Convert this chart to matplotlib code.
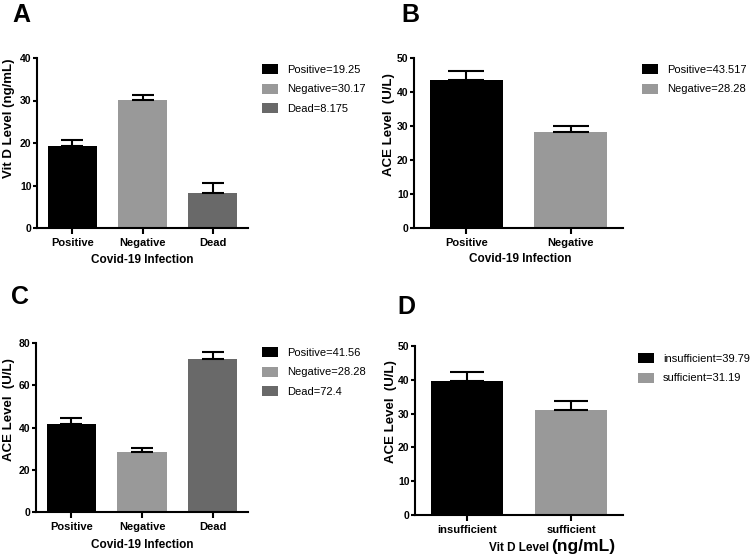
import matplotlib
matplotlib.use('Agg')
import matplotlib.pyplot as plt

plt.rcParams['font.family'] = ['Liberation Sans', 'DejaVu Sans']
plt.rcParams['font.weight'] = 'bold'

BLACK = '#000000'
LIGHT = '#999999'
DARK = '#696969'

# panel A: vitamin D by infection status
a_cats = ['Positive', 'Negative', 'Dead']
a_means = [19.25, 30.17, 8.175]
a_err = [1.4, 1.2, 2.3]

# panel B: ACE by infection status
b_cats = ['Positive', 'Negative']
b_means = [43.517, 28.28]
b_err = [2.8, 1.8]

# panel C: ACE incl. dead
c_cats = ['Positive', 'Negative', 'Dead']
c_means = [41.56, 28.28, 72.4]
c_err = [2.8, 1.8, 3.2]

# panel D: ACE by vit D status
d_cats = ['insufficient', 'sufficient']
d_means = [39.79, 31.19]
d_err = [2.5, 2.4]

W, H = 750, 555
fig = plt.figure(figsize=(7.5, 5.55), dpi=100)


def box(l, r, t, b):
    return [l / W, 1 - b / H, (r - l) / W, (b - t) / H]


def panel(rect, cats, means, errs, colors, ymax, ystep, capsize, leg_xy):
    ax = fig.add_axes(rect)
    x = list(range(len(cats)))
    bars = ax.bar(x, means, width=0.7, color=colors, zorder=2)
    ax.errorbar(x, means, yerr=[[0] * len(errs), errs], fmt='none', ecolor='black',
                elinewidth=1.5, capsize=capsize, capthick=1.5, zorder=3)
    ax.set_xlim(-0.5, len(cats) - 0.5)
    ax.set_ylim(0, ymax)
    ax.set_yticks(range(0, ymax + 1, ystep))
    ax.set_xticks(x)
    ax.set_xticklabels(cats, fontsize=8)
    ax.tick_params(axis='y', labelsize=7.5, width=1.5, length=3, pad=1)
    ax.tick_params(axis='x', width=1.5, length=4, pad=3)
    for s in ['top', 'right']:
        ax.spines[s].set_visible(False)
    for s in ['left', 'bottom']:
        ax.spines[s].set_linewidth(1.5)
    labels = [f'{c}={m}' for c, m in zip(cats, means)]
    ax.legend(bars, labels, loc='upper left', bbox_to_anchor=(leg_xy[0] / W, 1 - leg_xy[1] / H),
              bbox_transform=fig.transFigure, frameon=False, borderpad=0, borderaxespad=0,
              prop={'weight': 'normal', 'size': 8}, handlelength=1.45, handleheight=1.0,
              labelspacing=0.8, handletextpad=0.8)
    return ax


axA = panel(box(37, 248, 58, 228), a_cats, a_means, a_err, [BLACK, LIGHT, DARK], 40, 10, 7.9, (262, 64))
axB = panel(box(414, 623, 58, 228), b_cats, b_means, b_err, [BLACK, LIGHT], 50, 10, 13, (642, 64))
axC = panel(box(36, 248, 343, 512), c_cats, c_means, c_err, [BLACK, LIGHT, DARK], 80, 20, 7.9, (262, 347))
axD = panel(box(415, 623, 346, 515), d_cats, d_means, d_err, [BLACK, LIGHT], 50, 10, 12.5, (638, 353))

# axis titles
fig.text(9 / W, 1 - 118 / H, 'Vit D Level (ng/mL)', rotation=90, ha='center', va='center', fontsize=9.5)
fig.text(389 / W, 1 - 125 / H, 'ACE Level  (U/L)', rotation=90, ha='center', va='center', fontsize=9.5)
fig.text(9 / W, 1 - 410 / H, 'ACE Level  (U/L)', rotation=90, ha='center', va='center', fontsize=9.5)
fig.text(391 / W, 1 - 412 / H, 'ACE Level  (U/L)', rotation=90, ha='center', va='center', fontsize=9.5)
fig.text(142 / W, 1 - 260 / H, 'Covid-19 Infection', ha='center', va='center', fontsize=8.5)
fig.text(520 / W, 1 - 259 / H, 'Covid-19 Infection', ha='center', va='center', fontsize=8.5)
fig.text(142 / W, 1 - 545 / H, 'Covid-19 Infection', ha='center', va='center', fontsize=8.5)
fig.text(549 / W, 1 - 548 / H, 'Vit D Level', ha='right', va='center', fontsize=8.5)
fig.text(551 / W, 1 - 547 / H, '(ng/mL)', ha='left', va='center', fontsize=12.5)

# panel letters
for letter, (px, py) in zip('ABCD', [(12, 3), (401, 3), (11, 285), (397, 295)]):
    fig.text(px / W, 1 - py / H, letter, ha='left', va='top', fontsize=18, fontweight='bold')

fig.savefig('out.png', dpi=100)
